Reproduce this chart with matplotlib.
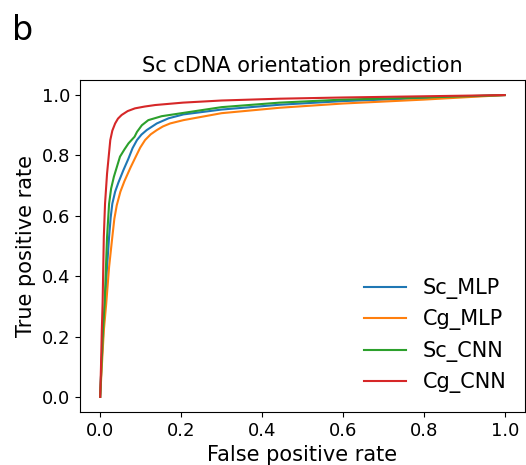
import matplotlib
matplotlib.use("Agg")
import matplotlib.pyplot as plt

sc_mlp_fpr = [0.0, 0.003, 0.008, 0.012, 0.017, 0.022, 0.026, 0.030, 0.037, 0.045, 0.057, 0.070, 0.080, 0.091, 0.102, 0.115, 0.140, 0.169, 0.206, 0.300, 0.444, 0.600, 0.800, 1.0]
sc_mlp_tpr = [0.0, 0.10, 0.22, 0.31, 0.43, 0.53, 0.595, 0.64, 0.68, 0.71, 0.75, 0.79, 0.824, 0.851, 0.869, 0.884, 0.906, 0.923, 0.936, 0.952, 0.968, 0.980, 0.990, 1.0]

cg_mlp_fpr = [0.0, 0.004, 0.009, 0.015, 0.022, 0.030, 0.035, 0.041, 0.050, 0.060, 0.075, 0.088, 0.099, 0.111, 0.125, 0.140, 0.155, 0.173, 0.206, 0.300, 0.444, 0.600, 0.800, 1.0]
cg_mlp_tpr = [0.0, 0.10, 0.22, 0.31, 0.43, 0.53, 0.59, 0.635, 0.68, 0.715, 0.76, 0.796, 0.826, 0.851, 0.870, 0.884, 0.896, 0.906, 0.917, 0.940, 0.958, 0.972, 0.985, 1.0]

sc_cnn_fpr = [0.0, 0.003, 0.007, 0.011, 0.017, 0.022, 0.027, 0.034, 0.049, 0.060, 0.070, 0.085, 0.091, 0.103, 0.119, 0.152, 0.206, 0.300, 0.444, 0.600, 0.800, 1.0]
sc_cnn_tpr = [0.0, 0.10, 0.22, 0.31, 0.53, 0.64, 0.69, 0.73, 0.796, 0.820, 0.840, 0.862, 0.878, 0.900, 0.917, 0.930, 0.941, 0.960, 0.975, 0.985, 0.992, 1.0]

cg_cnn_fpr = [0.0, 0.002, 0.004, 0.006, 0.009, 0.012, 0.017, 0.025, 0.030, 0.037, 0.044, 0.053, 0.068, 0.086, 0.110, 0.136, 0.205, 0.300, 0.444, 0.600, 0.800, 1.0]
cg_cnn_tpr = [0.0, 0.10, 0.22, 0.31, 0.53, 0.64, 0.74, 0.851, 0.882, 0.906, 0.922, 0.934, 0.947, 0.956, 0.962, 0.967, 0.975, 0.982, 0.988, 0.992, 0.996, 1.0]

labels = ["Sc_MLP", "Cg_MLP", "Sc_CNN", "Cg_CNN"]
colors = ["#1f77b4", "#ff7f0e", "#2ca02c", "#d62728"]
ticks = [0.0, 0.2, 0.4, 0.6, 0.8, 1.0]

fig = plt.figure(figsize=(5.26, 4.65), dpi=100)
ax = fig.add_axes([0.152, 0.114, 0.846, 0.714])
series = [(sc_mlp_fpr, sc_mlp_tpr), (cg_mlp_fpr, cg_mlp_tpr),
          (sc_cnn_fpr, sc_cnn_tpr), (cg_cnn_fpr, cg_cnn_tpr)]
for (fx, ty), lab, c in zip(series, labels, colors):
    ax.plot(fx, ty, color=c, label=lab, lw=1.5, solid_joinstyle="round")

ax.set_xlim(-0.05, 1.05)
ax.set_ylim(-0.05, 1.05)
ax.set_xticks(ticks)
ax.set_yticks(ticks)
ax.tick_params(labelsize=13)
ax.set_xlabel("False positive rate", fontsize=15)
ax.set_ylabel("True positive rate", fontsize=15)
ax.set_title("Sc cDNA orientation prediction", fontsize=15)
ax.legend(loc="lower right", frameon=False, fontsize=15, handlelength=2.0)
fig.text(0.022, 0.915, "b", fontsize=24)
fig.savefig("out.png", dpi=100)
